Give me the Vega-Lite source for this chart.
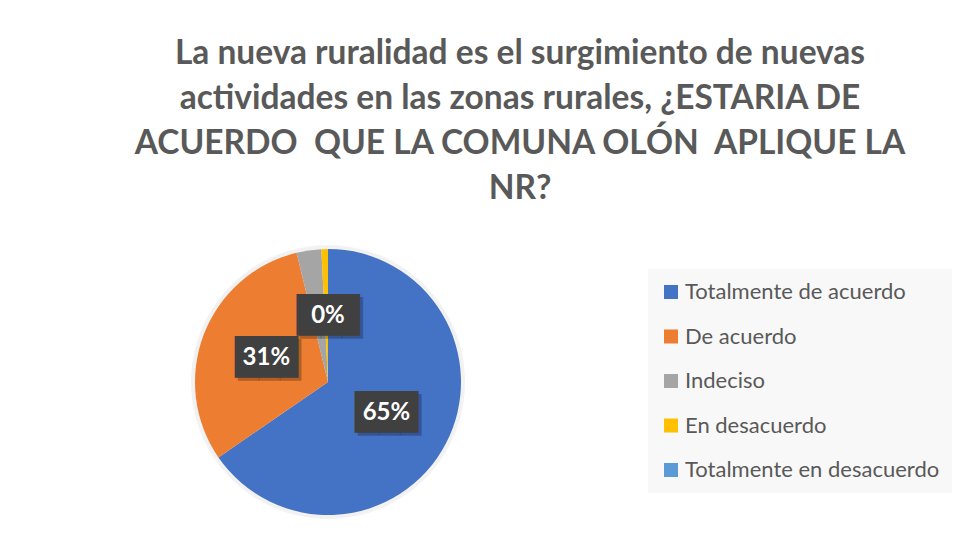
{
  "$schema": "https://vega.github.io/schema/vega-lite/v6.json",
  "width": 276,
  "height": 276,
  "autosize": {"type": "none"},
  "padding": {"left": 190, "top": 244, "right": 488, "bottom": 13},
  "background": "white",
  "title": {
    "text": ["La nueva ruralidad es el surgimiento de nuevas", "actividades en las zonas rurales, ¿ESTARIA DE", "ACUERDO \u00a0QUE LA COMUNA OLÓN \u00a0APLIQUE LA", "NR?"],
    "font": "Lato",
    "fontSize": 33.5,
    "fontWeight": "bold",
    "color": "#595959",
    "anchor": "middle",
    "frame": "group",
    "dx": 192,
    "offset": 38,
    "lineHeight": 45
  },
  "data": {
    "values": [
      {"categoria": "Totalmente de acuerdo", "valor": 65.4, "etiqueta": "65%", "orden": 1},
      {"categoria": "De acuerdo", "valor": 30.8, "etiqueta": "31%", "orden": 2},
      {"categoria": "Indeciso", "valor": 3.0, "etiqueta": "", "orden": 3},
      {"categoria": "En desacuerdo", "valor": 0.8, "etiqueta": "", "orden": 4},
      {"categoria": "Totalmente en desacuerdo", "valor": 0, "etiqueta": "0%", "orden": 5}
    ]
  },
  "encoding": {
    "theta": {"field": "valor", "type": "quantitative", "stack": true},
    "order": {"field": "orden", "type": "quantitative", "sort": "ascending"},
    "color": {
      "field": "categoria",
      "type": "nominal",
      "sort": ["Totalmente de acuerdo", "De acuerdo", "Indeciso", "En desacuerdo", "Totalmente en desacuerdo"],
      "scale": {
        "domain": ["Totalmente de acuerdo", "De acuerdo", "Indeciso", "En desacuerdo", "Totalmente en desacuerdo"],
        "range": ["#4472C4", "#ED7D31", "#A5A5A5", "#FFC000", "#5B9BD5"]
      },
      "legend": {
        "orient": "none",
        "legendX": 458,
        "legendY": 25,
        "title": null,
        "symbolType": "square",
        "symbolSize": 196,
        "symbolStrokeWidth": 0,
        "symbolOpacity": 1,
        "labelFontSize": 22,
        "labelFont": "Lato",
        "labelColor": "#595959",
        "rowPadding": 22.5,
        "labelOffset": 3,
        "padding": 12,
        "fillColor": "#f8f8f8",
        "labelLimit": 400
      }
    }
  },
  "layer": [
    {
      "mark": {"type": "arc", "outerRadius": 137},
      "encoding": {"fill": {"value": "#000000"}, "fillOpacity": {"value": 0.05}}
    },
    {
      "mark": {"type": "arc", "outerRadius": 133}
    },
    {
      "mark": {"type": "text", "radius": 66, "font": "DejaVu Sans Mono", "fontSize": 35, "baseline": "middle", "align": "center", "dx": 3, "dy": 3},
      "encoding": {
        "text": {"condition": {"test": "datum.etiqueta != ''", "value": "███"}, "value": ""},
        "fill": {"value": "#000000"},
        "fillOpacity": {"value": 0.25}
      }
    },
    {
      "mark": {"type": "text", "radius": 66, "font": "DejaVu Sans Mono", "fontSize": 35, "baseline": "middle", "align": "center"},
      "encoding": {
        "text": {"condition": {"test": "datum.etiqueta != ''", "value": "███"}, "value": ""},
        "fill": {"value": "#404040"}
      }
    },
    {
      "mark": {"type": "text", "radius": 66, "font": "Lato", "fontSize": 24, "fontWeight": "bold", "baseline": "middle", "align": "center"},
      "encoding": {
        "text": {"field": "etiqueta"},
        "fill": {"value": "#ffffff"}
      }
    }
  ],
  "config": {"view": {"stroke": null}}
}
